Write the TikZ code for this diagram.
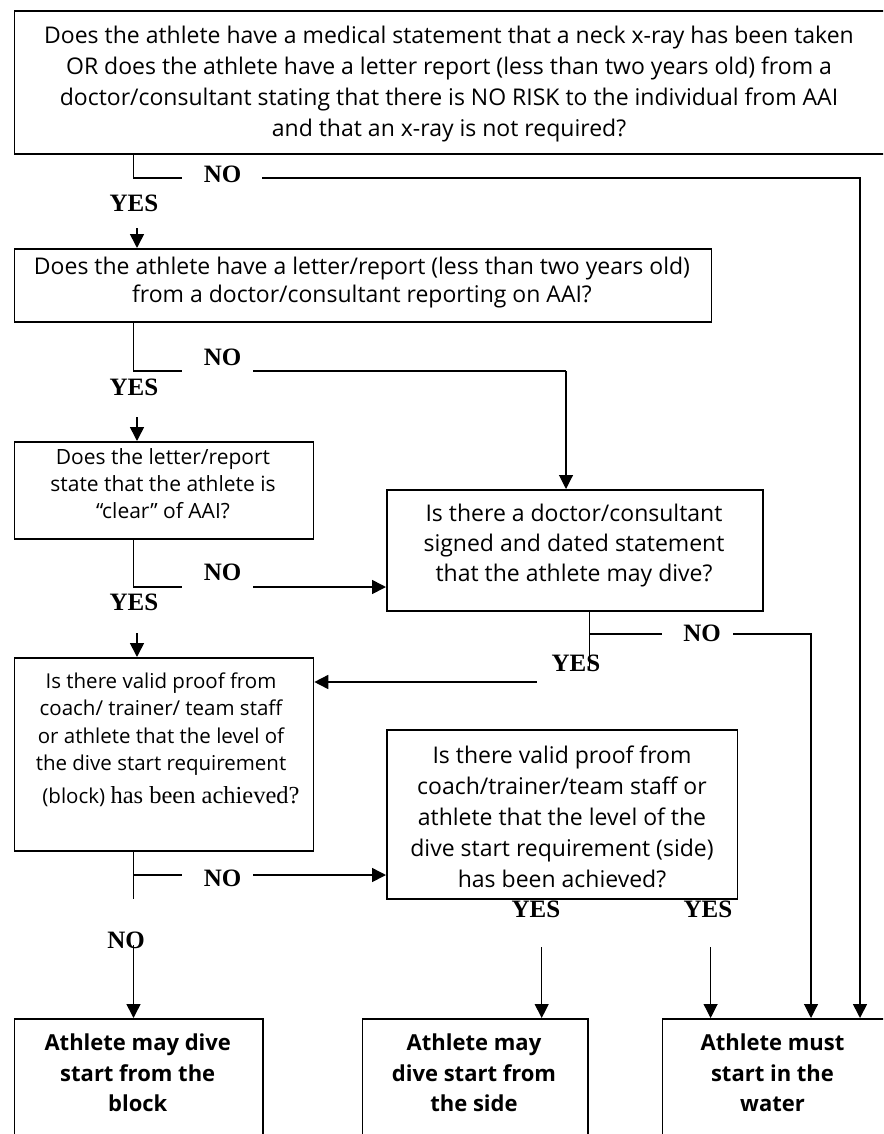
\documentclass[tikz,border=0pt]{standalone}
\usepackage{fontspec}
\setmainfont{Open Sans}
\newfontfamily\serifpart{Liberation Serif}
\usetikzlibrary{arrows.meta,calc}
\begin{document}
\begin{tikzpicture}[x=1pt,y=-1pt,
  box/.style={draw, line width=1.8pt, inner sep=0pt, anchor=north west},
  qtext/.style={align=center, inner sep=0pt, font=\fontsize{23}{31}\selectfont},
  btext/.style={align=center, inner sep=0pt, font=\bfseries\fontsize{22}{30.5}\selectfont},
  yn/.style={inner sep=0pt, font=\serifpart\bfseries\fontsize{25}{25}\selectfont},
  conn/.style={line width=1.6pt},
  thinc/.style={line width=1.1pt},
  arr/.style={-{Triangle[length=14pt,width=14pt]}}]
\useasboundingbox (0,0) rectangle (883,1134);
\clip (0,0) rectangle (883,1134);

% boxes
\node[box, minimum width=871pt, minimum height=143pt] (b1) at (13.5,10) {};
\node[box, minimum width=697pt, minimum height=73pt] (b2) at (13.5,248) {};
\node[box, minimum width=299pt, minimum height=97pt] (b3) at (13.5,441) {};
\node[box, minimum width=376pt, minimum height=121pt] (b4) at (386,489) {};
\node[box, minimum width=299pt, minimum height=193pt] (b5) at (13.5,657) {};
\node[box, minimum width=350.5pt, minimum height=169pt] (b6) at (386,729) {};
\node[box, minimum width=248.5pt, minimum height=150pt] (b7) at (13.5,1018) {};
\node[box, minimum width=225.2pt, minimum height=150pt] (b8) at (361.5,1018) {};
\node[box, minimum width=222.4pt, minimum height=150pt] (b9) at (661.6,1018) {};

% texts
\node[qtext] (t1) at (449,84) {Does the athlete have a medical statement that a neck x-ray has been taken\\OR does the athlete have a letter report (less than two years old) from a\\doctor/consultant stating that there is NO RISK to the individual from AAI\\and that an x-ray is not required?};
\node[qtext, font=\fontsize{23}{28}\selectfont] (t2) at (362,283) {Does the athlete have a letter/report (less than two years old)\\from a doctor/consultant reporting on AAI?};
\node[qtext, font=\fontsize{21}{27}\selectfont] (t3) at (163,484) {Does the letter/report\\state that the athlete is\\“clear” of AAI?};
\node[qtext, font=\fontsize{23}{30}\selectfont] (t4) at (574,546) {Is there a doctor/consultant\\signed and dated statement\\that the athlete may dive?};
\node[qtext, font=\fontsize{20.5}{27.3}\selectfont] (t5) at (161,740) {Is there valid proof from\\coach/ trainer/ team staff\\or athlete that the level of\\the dive start requirement\\[6pt]\hspace*{20pt}(block) {\serifpart\fontsize{24.5}{27}\selectfont has been achieved?}};
\node[qtext] (t6) at (562,817) {Is there valid proof from\\coach/trainer/team staff or\\athlete that the level of the\\dive start requirement (side)\\has been achieved?};
\node[btext] (t7) at (137.75,1073) {Athlete may dive\\start from the\\block};
\node[btext] (t8) at (474,1073) {Athlete may\\dive start from\\the side};
\node[btext] (t9) at (772.5,1073) {Athlete must\\start in the\\water};

% YES / NO labels
\node[yn] (no1) at (222.5,174) {NO};
\node[yn] (yes1) at (134,203) {YES};
\node[yn] (no2) at (222.5,357) {NO};
\node[yn] (yes2) at (134,387) {YES};
\node[yn] (no3) at (222.5,572) {NO};
\node[yn] (yes3) at (134,602) {YES};
\node[yn] (no4) at (702,633) {NO};
\node[yn] (yes4) at (576,663) {YES};
\node[yn] (no5) at (222.5,878) {NO};
\node[yn] (no6) at (126,940) {NO};
\node[yn] (yes5) at (536,909) {YES};
\node[yn] (yes6) at (708,909) {YES};

% coordinates
\coordinate (c1a) at (133.5,178);
\coordinate (c1b) at (182,178);
\coordinate (c1c) at (262,178);
\coordinate (c1d) at (860,178);
\coordinate (a1) at (137,228);
\coordinate (c2a) at (133.5,371);
\coordinate (c2b) at (182,371);
\coordinate (c2c) at (253,371);
\coordinate (c2d) at (566,371);
\coordinate (a2) at (137,417);
\coordinate (c3a) at (133.5,587);
\coordinate (c3b) at (182,587);
\coordinate (c3c) at (253,587);
\coordinate (a3) at (137,633);
\coordinate (c4a) at (589.5,634);
\coordinate (c4e) at (589.5,670);
\coordinate (c4b) at (662,634);
\coordinate (c4c) at (733,634);
\coordinate (c4d) at (811,634);
\coordinate (a4) at (536.5,682);
\coordinate (c5a) at (133.5,899);
\coordinate (c5b) at (133.5,875);
\coordinate (c5c) at (182,875);
\coordinate (c5d) at (253,875);
\coordinate (a5) at (133.5,945);
\coordinate (a6) at (541.7,947);
\coordinate (a7) at (710.6,947);

% connectors
\draw[conn] (b1.south -| c1a) -- (c1a) -- (c1b);
\draw[conn,arr] (c1c) -| (b9.north -| c1d);
\draw[conn,arr] (a1) -- (a1 |- b2.north);

\draw[conn] (b2.south -| c2a) -- (c2a) -- (c2b);
\draw[conn] (c2c) -- (c2d);
\draw[thinc,arr] (c2d) -- (c2d |- b4.north);
\draw[conn,arr] (a2) -- (a2 |- b3.north);

\draw[conn] (b3.south -| c3a) -- (c3a) -- (c3b);
\draw[conn,arr] (c3c) -- (c3c -| b4.west);
\draw[conn,arr] (a3) -- (a3 |- b5.north);

\draw[conn] (b4.south -| c4a) -- (c4e);
\draw[conn] (c4a) -- (c4b);
\draw[thinc,arr] (c4c) -| (b9.north -| c4d);
\draw[conn,arr] (a4) -- (a4 -| b5.east);

\draw[conn] (b5.south -| c5a) -- (c5a);
\draw[conn] (c5b) -- (c5c);
\draw[conn,arr] (c5d) -- (c5d -| b6.west);
\draw[conn,arr] (a5) -- (a5 |- b7.north);

\draw[thinc,arr] (a6) -- (a6 |- b8.north);
\draw[thinc,arr] (a7) -- (a7 |- b9.north);
\end{tikzpicture}
\end{document}
